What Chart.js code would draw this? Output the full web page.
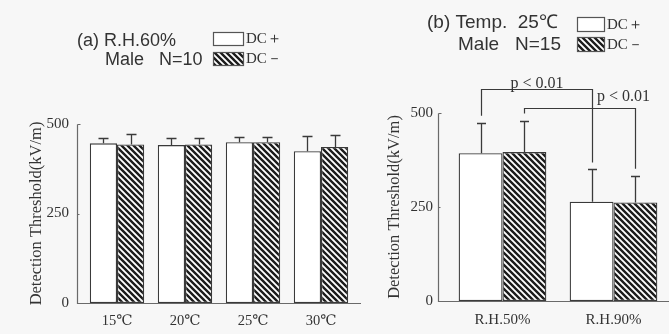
<!DOCTYPE html>
<html>
<head>
<meta charset="utf-8">
<script src="https://cdn.jsdelivr.net/npm/chart.js@4.4.1/dist/chart.umd.min.js"></script>
<style>
    html, body { margin: 0; padding: 0; background: #f7f7f7; }
    #wrap { position: relative; width: 669px; height: 334px; overflow: hidden; }
    #tempChart { position: absolute; left: 0; top: 0; }
    #humChart { position: absolute; left: 365px; top: 0; }
</style>
</head>
<body>
<div id="wrap">
    <canvas id="tempChart" width="365" height="334" style="width:365px;height:334px"></canvas>
    <canvas id="humChart" width="304" height="334" style="width:304px;height:334px"></canvas>
</div>
<script>
"use strict";

/* panel (a): temperature, R.H. 60% */
var tempLabels = ['15℃', '20℃', '25℃', '30℃'];
var tempDcPlus = [446, 441, 449, 424];
var tempDcPlusErr = [15, 20, 14, 42];
var tempDcMinus = [443, 443, 449, 436];
var tempDcMinusErr = [29, 18, 14, 32];

/* panel (b): humidity, 25℃ */
var humLabels = ['R.H.50%', 'R.H.90%'];
var humDcPlus = [393, 264];
var humDcPlusErr = [81, 86];
var humDcMinus = [396, 262];
var humDcMinusErr = [84, 71];

var yMax = 500;
var yStep = 250;
var sigText = 'p < 0.01';

var ink = '#3a3a3a';
var serif = "'Liberation Serif', 'DejaVu Serif', serif";
var sans = "'Liberation Sans', Arial, sans-serif";

/* diagonal hatch for DC- bars */
function makeHatch() {
    var p = 6;
    var c = document.createElement('canvas');
    c.width = p;
    c.height = p;
    var g = c.getContext('2d');
    g.fillStyle = '#ffffff';
    g.fillRect(0, 0, p, p);
    g.strokeStyle = '#1c1c1c';
    g.lineWidth = 2.4;
    g.beginPath();
    g.moveTo(-1, -1); g.lineTo(p + 1, p + 1);
    g.moveTo(p - 1, -1); g.lineTo(p + 1, 1);
    g.moveTo(-1, p - 1); g.lineTo(1, p + 1);
    g.stroke();
    return g.createPattern(c, 'repeat');
}
var hatch = makeHatch();

/* upper half error bars, values in dataset.errors */
var errorBars = {
    id: 'errorBars',
    afterDatasetsDraw: function (chart, args, opts) {
        var ctx = chart.ctx;
        var y = chart.scales.y;
        ctx.save();
        ctx.strokeStyle = ink;
        ctx.lineWidth = 1.3;
        chart.data.datasets.forEach(function (ds, i) {
            chart.getDatasetMeta(i).data.forEach(function (bar, j) {
                var top = Math.round(y.getPixelForValue(ds.data[j] + ds.errors[j])) + 0.5;
                var x = Math.round(bar.x) + 0.5;
                ctx.beginPath();
                ctx.moveTo(x, bar.y);
                ctx.lineTo(x, top);
                ctx.moveTo(x - opts.cap, top);
                ctx.lineTo(x + opts.cap, top);
                ctx.stroke();
            });
        });
        ctx.restore();
    }
};

/* hand drawn looking axes, set a bit off the bars */
var plainAxes = {
    id: 'plainAxes',
    afterDraw: function (chart, args, opts) {
        var ctx = chart.ctx;
        var a = chart.chartArea;
        var y = chart.scales.y;
        var x0 = Math.round(a.left - opts.gap) + 0.5;
        var y0 = Math.round(y.getPixelForValue(0)) + 0.5;
        var yTop = Math.round(y.getPixelForValue(yMax)) + 0.5;
        ctx.save();
        ctx.strokeStyle = '#6a6a6a';
        ctx.lineWidth = 1.2;
        ctx.beginPath();
        ctx.moveTo(x0, yTop);
        ctx.lineTo(x0, y0);
        ctx.lineTo(a.right + opts.gap, y0);
        ctx.moveTo(x0, yTop);
        ctx.lineTo(x0 + 3, yTop);
        var mid = Math.round(y.getPixelForValue(yStep)) + 0.5;
        ctx.moveTo(x0, mid);
        ctx.lineTo(x0 + 2, mid);
        ctx.stroke();
        ctx.restore();
    }
};

/* panel heading and legend boxes */
var heading = {
    id: 'heading',
    afterDraw: function (chart, args, opts) {
        var ctx = chart.ctx;
        ctx.save();
        ctx.fillStyle = '#333';
        ctx.textBaseline = 'middle';
        ctx.textAlign = 'left';
        ctx.font = opts.size + 'px ' + sans;
        ctx.fillText(opts.line1, opts.x1, opts.y1);
        ctx.fillText(opts.line2, opts.x2, opts.y2);

        ctx.strokeStyle = '#555';
        ctx.lineWidth = 1.2;
        ctx.fillStyle = '#ffffff';
        ctx.fillRect(opts.bx, opts.by1, opts.bw, opts.bh);
        ctx.strokeRect(opts.bx + 0.5, opts.by1 + 0.5, opts.bw, opts.bh);
        ctx.fillStyle = hatch;
        ctx.fillRect(opts.bx, opts.by2, opts.bw, opts.bh);
        ctx.strokeRect(opts.bx + 0.5, opts.by2 + 0.5, opts.bw, opts.bh);

        ctx.fillStyle = '#333';
        ctx.font = '15px ' + serif;
        ctx.fillText('DC＋', opts.bx + opts.bw + 3, opts.by1 + opts.bh / 2 + 1);
        ctx.fillText('DC－', opts.bx + opts.bw + 3, opts.by2 + opts.bh / 2 + 1);
        ctx.restore();
    }
};

/* significance brackets between bars of the same series */
var sigBrackets = {
    id: 'sigBrackets',
    afterDraw: function (chart, args, opts) {
        if (!opts.items) return;
        var ctx = chart.ctx;
        var y = chart.scales.y;
        ctx.save();
        ctx.strokeStyle = ink;
        ctx.lineWidth = 1.2;
        ctx.fillStyle = '#333';
        ctx.font = '16px ' + serif;
        ctx.textBaseline = 'alphabetic';
        ctx.textAlign = 'center';
        opts.items.forEach(function (it) {
            var ds = chart.data.datasets[it.series];
            var bars = chart.getDatasetMeta(it.series).data;
            var xa = Math.round(bars[it.from].x) + 0.5;
            var xb = Math.round(bars[it.to].x) + 0.5;
            var ya = y.getPixelForValue(ds.data[it.from] + ds.errors[it.from]) - opts.gap;
            var yb = y.getPixelForValue(ds.data[it.to] + ds.errors[it.to]) - opts.gap;
            var top = Math.round(it.top) + 0.5;
            ctx.beginPath();
            ctx.moveTo(xa, ya);
            ctx.lineTo(xa, top);
            ctx.lineTo(xb, top);
            ctx.lineTo(xb, yb);
            ctx.stroke();
            var tx = it.labelAtEnd ? xb - 12 : (xa + xb) / 2;
            ctx.fillText(sigText, tx, top - it.lift);
        });
        ctx.restore();
    }
};

function barDatasets(plus, plusErr, minus, minusErr) {
    return [{
        label: 'DC+',
        data: plus,
        errors: plusErr,
        backgroundColor: '#ffffff',
        borderColor: ink,
        borderWidth: 1.3,
        borderSkipped: false
    }, {
        label: 'DC-',
        data: minus,
        errors: minusErr,
        backgroundColor: hatch,
        borderColor: ink,
        borderWidth: 1.3,
        borderSkipped: false
    }];
}

function panelOptions(cfg) {
    return {
        responsive: false,
        animation: false,
        devicePixelRatio: 1,
        layout: { padding: { top: cfg.top, right: cfg.right, bottom: 0, left: 0 } },
        datasets: { bar: { categoryPercentage: cfg.group, barPercentage: 1.0 } },
        plugins: {
            legend: { display: false },
            tooltip: { enabled: false },
            errorBars: { cap: cfg.cap },
            plainAxes: { gap: cfg.gap },
            heading: cfg.heading,
            sigBrackets: cfg.brackets || {}
        },
        scales: {
            x: {
                offset: true,
                grid: { display: false, drawTicks: false },
                border: { display: false },
                ticks: { color: '#333', padding: cfg.xPad, font: { family: serif, size: cfg.xSize } },
                afterFit: function (s) { s.height = cfg.xHeight; }
            },
            y: {
                min: 0,
                max: yMax,
                grid: { display: false, drawTicks: false },
                border: { display: false },
                ticks: { stepSize: yStep, color: '#333', padding: 14, font: { family: serif, size: 15 } },
                title: {
                    display: true,
                    text: 'Detection Threshold(kV/m)',
                    color: '#333',
                    font: { family: serif, size: 16.5 },
                    padding: { top: cfg.titlePad, bottom: 0 }
                },
                afterFit: function (s) { s.width = cfg.yWidth; }
            }
        }
    };
}

document.addEventListener('DOMContentLoaded', function () {

    /* (a) R.H.60% */
    new Chart(document.getElementById('tempChart').getContext('2d'), {
        type: 'bar',
        data: {
            labels: tempLabels,
            datasets: barDatasets(tempDcPlus, tempDcPlusErr, tempDcMinus, tempDcMinusErr)
        },
        options: panelOptions({
            top: 124, right: 10, group: 0.8, cap: 5, gap: 6,
            xPad: 9, xSize: 14.5, xHeight: 31, yWidth: 83, titlePad: 27,
            heading: {
                line1: '(a) R.H.60%', x1: 77, y1: 41,
                line2: 'Male   N=10', x2: 105, y2: 60,
                size: 18, bx: 213, by1: 32, by2: 52, bw: 30, bh: 13
            }
        }),
        plugins: [errorBars, plainAxes, heading, sigBrackets]
    });

    /* (b) Temp. 25℃ */
    new Chart(document.getElementById('humChart').getContext('2d'), {
        type: 'bar',
        data: {
            labels: humLabels,
            datasets: barDatasets(humDcPlus, humDcPlusErr, humDcMinus, humDcMinusErr)
        },
        options: panelOptions({
            top: 113, right: 0, group: 0.79, cap: 4.5, gap: 9,
            xPad: 10, xSize: 15, xHeight: 33, yWidth: 82, titlePad: 20,
            heading: {
                line1: '(b) Temp.  25℃', x1: 62, y1: 23,
                line2: 'Male   N=15', x2: 93, y2: 45,
                size: 19, bx: 212, by1: 17, by2: 37, bw: 27, bh: 14
            },
            brackets: {
                gap: 7,
                items: [
                    { series: 0, from: 0, to: 1, top: 89, lift: 2, labelAtEnd: false },
                    { series: 1, from: 0, to: 1, top: 108, lift: 8, labelAtEnd: true }
                ]
            }
        }),
        plugins: [errorBars, plainAxes, heading, sigBrackets]
    });
});
</script>
</body>
</html>
